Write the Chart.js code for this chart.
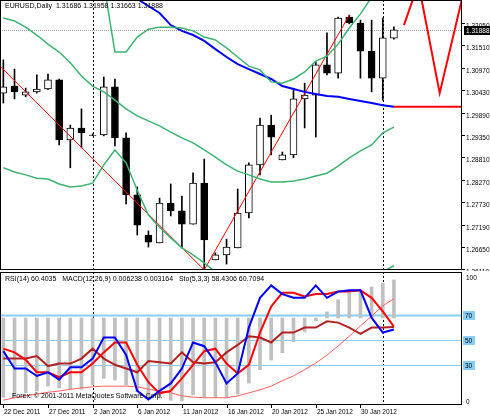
<!DOCTYPE html>
<html><head><meta charset="utf-8">
<script src="https://cdn.jsdelivr.net/npm/chart.js@4"></script>
<style>
html,body{margin:0;padding:0;background:#fff;width:490px;height:420px;overflow:hidden}
#p1{position:absolute;left:0;top:0}
#p2{position:absolute;left:0;top:271px}
</style></head><body>
<canvas id="p1" width="490" height="271"></canvas>
<canvas id="p2" width="490" height="149"></canvas>
<script>
// ---- data ----
const dateLabels = ["22 Dec 2011","27 Dec 2011","2 Jan 2012","6 Jan 2012","11 Jan 2012","16 Jan 2012","20 Jan 2012","25 Jan 2012","30 Jan 2012"];
const dateIdx = [0,4,8,12,16,20,24,28,32];
const priceTicks = [1.26110,1.26650,1.27190,1.27730,1.28270,1.28810,1.29350,1.29890,1.30430,1.30970,1.31510,1.32050];
const openP  = [1.3036,1.3053,1.3031,1.3039,1.3046,1.3068,1.2923,1.2952,1.2935,1.2935,1.3051,1.2928,1.2791,1.2694,1.2675,1.2771,1.2752,1.2720,1.2819,1.2634,1.2646,1.2663,1.2747,1.2863,1.2959,1.2875,1.2887,1.3022,1.3031,1.3104,1.3084,1.3219,1.3205,1.3137,1.3072,1.31686];
const highP  = [1.3116,1.3094,1.3048,1.3080,1.3082,1.3070,1.2959,1.2998,1.2938,1.3075,1.3070,1.2940,1.2810,1.2704,1.2783,1.2817,1.2788,1.2844,1.2877,1.2651,1.2684,1.2805,1.2868,1.2976,1.2983,1.2894,1.3048,1.3060,1.3111,1.3181,1.3219,1.3224,1.3212,1.3212,1.3217,1.31958];
const lowP   = [1.3012,1.3022,1.3027,1.3036,1.3044,1.2911,1.2856,1.2904,1.2933,1.2933,1.2909,1.2769,1.2694,1.2665,1.2675,1.2740,1.2663,1.2720,1.2610,1.2634,1.2624,1.2663,1.2735,1.2839,1.2887,1.2875,1.2880,1.2952,1.2930,1.3080,1.3072,1.3203,1.3072,1.3039,1.3019,1.31663];
const closeP = [1.3051,1.3039,1.3039,1.3046,1.3068,1.2923,1.2952,1.2940,1.2934,1.3051,1.2928,1.2791,1.2718,1.2677,1.2771,1.2752,1.2720,1.2819,1.2682,1.2646,1.2665,1.2747,1.2863,1.2959,1.2930,1.2887,1.3022,1.3031,1.3104,1.3084,1.3217,1.3205,1.3137,1.3072,1.3169,1.31888];
const maBlue = [null,null,null,null,null,null,null,null,null,null,1.3300,1.3280,1.3263,1.3246,1.3229,1.3200,1.3186,1.3176,1.3162,1.3142,1.3123,1.3106,1.3094,1.3082,1.3070,1.3053,1.3046,1.3039,1.3034,1.3029,1.3027,1.3022,1.3017,1.3012,1.3007,1.3003];
const bbUpper = [1.3400,1.3390,1.3380,1.3370,1.3360,1.3350,1.3340,1.3320,1.3300,1.3300,1.3135,1.3135,1.3171,1.3190,1.3195,1.3195,1.3193,1.3186,1.3171,1.3164,1.3145,1.3123,1.3101,1.3092,1.3063,1.3060,1.3070,1.3087,1.3113,1.3125,1.3154,1.3193,1.3227,1.3267,1.3300,1.3330];
const bbMiddle = [1.3217,1.3210,1.3195,1.3176,1.3154,1.3135,1.3109,1.3077,1.3053,1.3039,1.3019,1.2998,1.2981,1.2969,1.2957,1.2942,1.2928,1.2916,1.2899,1.2882,1.2863,1.2848,1.2839,1.2829,1.2822,1.2822,1.2824,1.2829,1.2836,1.2843,1.2860,1.2880,1.2897,1.2911,1.2940,1.2954];
const bbLower = [1.2856,1.2846,1.2839,1.2831,1.2829,1.2817,1.2810,1.2812,1.2819,1.2863,1.2899,1.2868,1.2802,1.2742,1.2713,1.2687,1.2663,1.2646,1.2627,1.2605,1.2574,1.2550,1.2530,1.2515,1.2505,1.2500,1.2500,1.2505,1.2515,1.2525,1.2540,1.2555,1.2570,1.2590,1.2605,1.2620];
const zigzag = [{x:-0.3,y:1.3101},{x:18,y:1.2610},{x:31,y:1.3224}];
const projection = [{x:35.9,y:1.3200},{x:37.2,y:1.3300},{x:39.1,y:1.3036},{x:41.1,y:1.3263}];
const projLevel = 1.3003;
const macdHist = [-0.0130,-0.0130,-0.0123,-0.0120,-0.0112,-0.0115,-0.0117,-0.0117,-0.0110,-0.0099,-0.0102,-0.0110,-0.0121,-0.0131,-0.0131,-0.0135,-0.0136,-0.0126,-0.0130,-0.0131,-0.0131,-0.0125,-0.0107,-0.0085,-0.0069,-0.0057,-0.0039,-0.0023,-0.0005,0.0010,0.0030,0.0041,0.0046,0.0051,0.0057,0.006238];
const macdSignal = [-0.0135,-0.0131,-0.0128,-0.0125,-0.0122,-0.0120,-0.0117,-0.0115,-0.0113,-0.0112,-0.0112,-0.0112,-0.0113,-0.0117,-0.0120,-0.0123,-0.0128,-0.0130,-0.0131,-0.0131,-0.0131,-0.0128,-0.0123,-0.0118,-0.0112,-0.0103,-0.0095,-0.0085,-0.0074,-0.0061,-0.0046,-0.0030,-0.0013,0.0003,0.0020,0.003164];
const rsi = [35,35,35,37,29,31,31,35,43,35,30,27,24,33,32,31,40,32,31,32,40,46,53,52,48,56,56,60,60,65,64,60,55,60,60,60.4035];
const stoMain = [41,27,27,21,24,18,28,28,35,52,52,38,9,2,9,15,27,48,45,32,15,23,60,84,94,87,84,84,94,84,89,90,90,68,56,58.4306];
const stoSignal = [43,40,34,24,24,20,24,24,31,40,48,48,30,16,7,9,19,30,41,43,31,23,30,56,77,88,88,85,87,87,89,89,90,84,73,60.7094];
const levels = [70,50,30];

const F = '"Liberation Sans", Arial, sans-serif';
const idx = closeP.map((_, i) => i);
const pts = arr => arr.map((v, i) => ({x: i, y: v}));
const XMIN = -0.3, XMAX = 41.1;

function frame(ch) {
  const a = ch.chartArea, c = ch.ctx;
  c.save(); c.strokeStyle = '#000'; c.lineWidth = 1;
  c.strokeRect(a.left + 0.5, a.top + 0.5, a.right - a.left - 1, a.bottom - a.top - 1);
  c.restore();
}
function vDashed(ch, xs) {
  const c = ch.ctx, a = ch.chartArea, sx = ch.scales.x;
  c.save(); c.strokeStyle = '#000'; c.setLineDash([2, 2]); c.lineWidth = 1;
  xs.forEach(v => { const px = Math.round(sx.getPixelForValue(v)) + 0.5; c.beginPath(); c.moveTo(px, a.top); c.lineTo(px, a.bottom); c.stroke(); });
  c.restore();
}

const pricePlugin = {
  id: 'pp',
  beforeDatasetsDraw(ch) {
    const c = ch.ctx, a = ch.chartArea, sy = ch.scales.y;
    vDashed(ch, [8, 34]);
    const py = Math.round(sy.getPixelForValue(closeP[closeP.length - 1])) + 0.5;
    c.save(); c.strokeStyle = '#a0a0a0'; c.setLineDash([1, 1]);
    c.beginPath(); c.moveTo(a.left, py); c.lineTo(a.right, py); c.stroke(); c.restore();
  },
  afterDraw(ch) {
    const c = ch.ctx, a = ch.chartArea, sy = ch.scales.y;
    frame(ch);
    c.save(); c.font = '6.5px ' + F; c.fillStyle = '#000'; c.textBaseline = 'middle';
    priceTicks.forEach(t => {
      const py = Math.round(sy.getPixelForValue(t)) + 0.5;
      c.beginPath(); c.moveTo(a.right, py); c.lineTo(a.right + 3, py); c.stroke();
      c.fillText(t.toFixed(5), a.right + 4, py + 3);
    });
    const last = closeP[closeP.length - 1];
    const py = Math.round(sy.getPixelForValue(last));
    c.fillStyle = '#000'; c.fillRect(a.right + 2, py - 4, 26, 9);
    c.fillStyle = '#fff'; c.fillText(last.toFixed(5), a.right + 4, py + 1);
    c.fillStyle = '#000'; c.textBaseline = 'top'; c.font = '7px ' + F;
    c.fillText('EURUSD,Daily  ' + [openP, highP, lowP, closeP].map(r => r[r.length - 1].toFixed(5)).join(' '), 5, 3);
    c.restore();
  }
};

new Chart(document.getElementById('p1'), {
  data: {
    datasets: [
      {type: 'line', data: pts(bbUpper), borderColor: '#3cb371', borderWidth: 1.5, pointRadius: 0, order: 0},
      {type: 'line', data: pts(bbMiddle), borderColor: '#3cb371', borderWidth: 1.5, pointRadius: 0, order: 0},
      {type: 'line', data: pts(bbLower), borderColor: '#3cb371', borderWidth: 1.5, pointRadius: 0, order: 0},
      {type: 'line', data: pts(maBlue), borderColor: '#0000ff', borderWidth: 2, pointRadius: 0, order: 0},
      {type: 'line', data: [{x: 35, y: projLevel}, {x: XMAX, y: projLevel}], borderColor: '#ff0000', borderWidth: 2, pointRadius: 0, order: 0},
      {type: 'line', data: zigzag, borderColor: '#ff0000', borderWidth: 1, pointRadius: 0, order: 0},
      {type: 'line', data: projection, borderColor: '#ff0000', borderWidth: 2, pointRadius: 0, order: 0},
      {type: 'bar', data: idx.map(i => ({x: i, y: [openP[i], closeP[i]]})), backgroundColor: idx.map(i => closeP[i] >= openP[i] ? '#fff' : '#000'), borderColor: '#000', borderWidth: 1, borderSkipped: false, barThickness: 7, grouped: false, order: 1},
      {type: 'bar', data: idx.map(i => ({x: i, y: [lowP[i], highP[i]]})), backgroundColor: '#000', barThickness: 1, grouped: false, order: 2}
    ]
  },
  options: {
    responsive: false, animation: false, devicePixelRatio: 1,
    layout: {padding: {top: 0, bottom: 1, left: 0, right: 0}},
    plugins: {legend: {display: false}, tooltip: {enabled: false}},
    scales: {
      x: {type: 'linear', min: XMIN, max: XMAX, offset: false, display: false},
      y: {type: 'linear', position: 'right', min: 1.26097, max: 1.32604, grid: {display: false}, border: {display: false}, ticks: {display: false}, afterFit: s => { s.width = 28; }}
    }
  },
  plugins: [pricePlugin]
});

const indPlugin = {
  id: 'ip',
  beforeDatasetsDraw(ch) {
    const c = ch.ctx, a = ch.chartArea, sy = ch.scales.y;
    vDashed(ch, [8, 34]);
    c.save();
    levels.forEach(l => {
      const py = Math.round(sy.getPixelForValue(l)) + 0.5;
      c.strokeStyle = '#87cefa'; c.lineWidth = l === 70 ? 2 : 1;
      c.beginPath(); c.moveTo(a.left, py); c.lineTo(a.right, py); c.stroke();
    });
    c.restore();
  },
  afterDraw(ch) {
    const c = ch.ctx, a = ch.chartArea, sy = ch.scales.y, sx = ch.scales.x;
    frame(ch);
    c.save(); c.font = '6.5px ' + F; c.textBaseline = 'middle';
    [100, 0].forEach(v => { c.fillStyle = '#000'; c.fillText(String(v), a.right + 4, sy.getPixelForValue(v)); });
    levels.forEach(l => {
      const py = Math.round(sy.getPixelForValue(l));
      c.fillStyle = '#87cefa'; c.fillRect(a.right + 1, py - 4, 12, 9);
      c.fillStyle = '#000'; c.fillText(String(l), a.right + 3, py + 1);
    });
    c.textBaseline = 'top'; c.font = '7px ' + F;
    c.fillText('RSI(14) 60.4035   MACD(12,26,9) 0.006238 0.003164   Sto(5,3,3) 58.4306 60.7094', 5, a.top + 4);
    c.fillText('Forex: \u00a9 2001-2011 MetaQuotes Software Corp.', 12, a.bottom - 12);
    c.font = '6.5px ' + F;
    dateIdx.forEach((d, k) => {
      const px = Math.round(sx.getPixelForValue(d));
      c.fillRect(px, a.bottom, 1, 3);
      c.fillText(dateLabels[k], px + 1, a.bottom + 4);
    });
    c.restore();
  }
};

new Chart(document.getElementById('p2'), {
  data: {
    datasets: [
      {type: 'line', data: pts(stoMain), borderColor: '#0000ff', borderWidth: 2, pointRadius: 0, yAxisID: 'y', order: 0},
      {type: 'line', data: pts(stoSignal), borderColor: '#ff0000', borderWidth: 2, pointRadius: 0, yAxisID: 'y', order: 0},
      {type: 'line', data: pts(rsi), borderColor: '#b22222', borderWidth: 2, pointRadius: 0, yAxisID: 'y', order: 0},
      {type: 'line', data: pts(macdSignal), borderColor: '#ff6060', borderWidth: 1, pointRadius: 0, yAxisID: 'y2', order: 1},
      {type: 'bar', data: pts(macdHist), backgroundColor: '#c0c0c0', barThickness: 3, grouped: false, yAxisID: 'y2', order: 2}
    ]
  },
  options: {
    responsive: false, animation: false, devicePixelRatio: 1,
    layout: {padding: {top: 1, bottom: 15, left: 0, right: 0}},
    plugins: {legend: {display: false}, tooltip: {enabled: false}},
    scales: {
      x: {type: 'linear', min: XMIN, max: XMAX, offset: false, display: false},
      y: {type: 'linear', position: 'right', min: -2.4, max: 104.8, grid: {display: false}, border: {display: false}, ticks: {display: false}, afterFit: s => { s.width = 28; }},
      y2: {type: 'linear', display: false, min: -0.01429, max: 0.00755}
    }
  },
  plugins: [indPlugin]
});
</script>
</body></html>
